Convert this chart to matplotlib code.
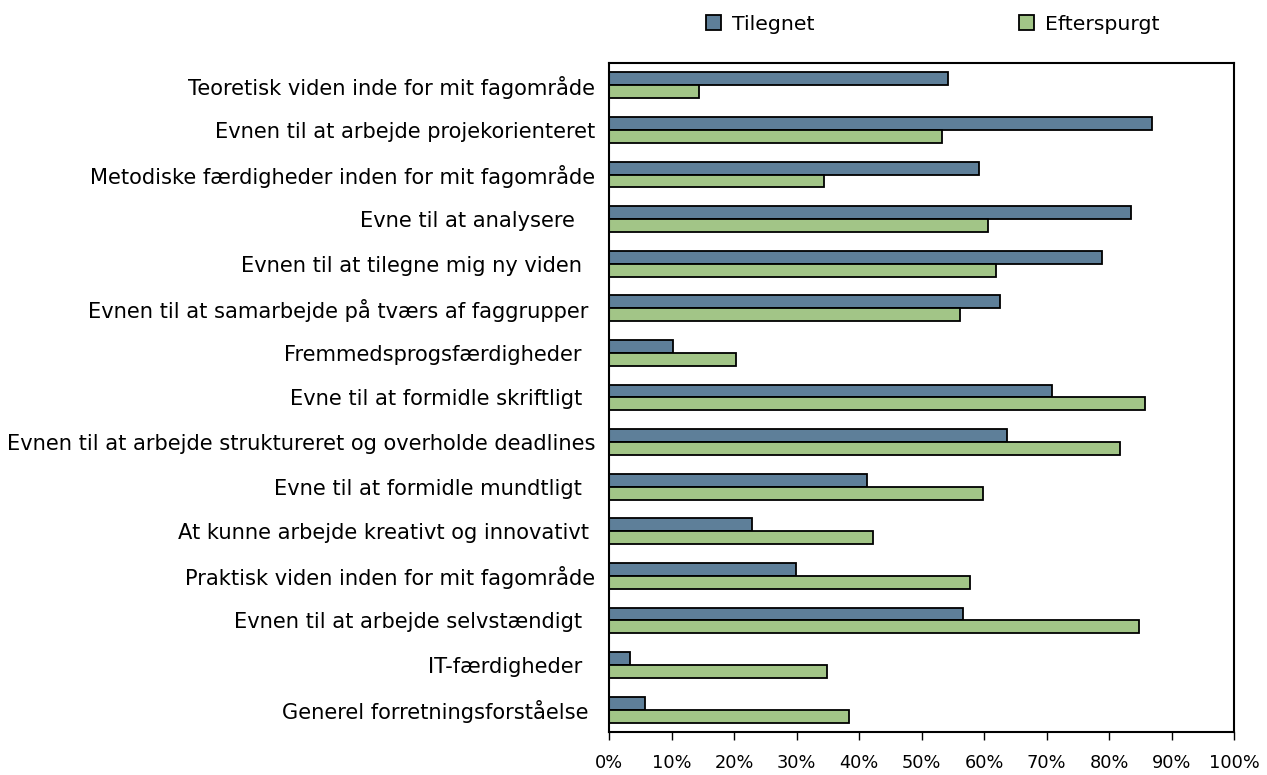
import matplotlib
matplotlib.use("Agg")
import matplotlib.pyplot as plt
import numpy as np
from matplotlib.patches import Patch
from matplotlib.ticker import PercentFormatter, MultipleLocator

categories = [
    "Teoretisk viden inde for mit fagområde",
    "Evnen til at arbejde projekorienteret",
    "Metodiske færdigheder inden for mit fagområde",
    "Evne til at analysere   ",
    "Evnen til at tilegne mig ny viden  ",
    "Evnen til at samarbejde på tværs af faggrupper ",
    "Fremmedsprogsfærdigheder  ",
    "Evne til at formidle skriftligt  ",
    "Evnen til at arbejde struktureret og overholde deadlines",
    "Evne til at formidle mundtligt  ",
    "At kunne arbejde kreativt og innovativt ",
    "Praktisk viden inden for mit fagområde",
    "Evnen til at arbejde selvstændigt  ",
    "IT-færdigheder  ",
    "Generel forretningsforståelse ",
]
tilegnet = [54.2, 86.8, 59.2, 83.5, 78.9, 62.6, 10.2, 70.8, 63.7, 41.2, 22.8, 29.9, 56.7, 3.4, 5.7]
efterspurgt = [14.4, 53.3, 34.4, 60.6, 61.9, 56.1, 20.3, 85.7, 81.7, 59.8, 42.3, 57.8, 84.8, 34.8, 38.4]
series_names = ["Tilegnet", "Efterspurgt"]
colors = ["#5E7F99", "#A2C587"]

plt.rcParams['font.family'] = ['DejaVu Sans']

fig = plt.figure(figsize=(12.67, 7.75), dpi=100)
ax = fig.add_axes([0.4807, 0.0555, 0.4933, 0.8632])

y = np.arange(len(categories))
h = 0.29
ax.barh(y - h / 2, tilegnet, height=h, color=colors[0], edgecolor="black", linewidth=1.3)
ax.barh(y + h / 2, efterspurgt, height=h, color=colors[1], edgecolor="black", linewidth=1.3)

ax.set_ylim(len(categories) - 0.5, -0.5)
ax.set_xlim(0, 100)
ax.set_yticks(y)
ax.set_yticklabels(categories, fontsize=15.1)
ax.tick_params(axis='y', length=0, pad=10)
ax.xaxis.set_major_locator(MultipleLocator(10))
ax.xaxis.set_major_formatter(PercentFormatter(decimals=0))
ax.tick_params(axis='x', direction='out', length=6, width=1, labelsize=12.8, pad=10)
for s in ax.spines.values():
    s.set_linewidth(1.5)
    s.set_color("black")

handles = [Patch(facecolor=c, edgecolor="black", linewidth=1.3) for c in colors]
fig.legend(handles, series_names, loc='center left', bbox_to_anchor=(0.557, 0.969),
           ncol=2, frameon=False, fontsize=14.7, handlelength=0.75, handleheight=0.75,
           handletextpad=0.54, columnspacing=10.0, borderaxespad=0, borderpad=0)

fig.savefig("out.png", dpi=100)
